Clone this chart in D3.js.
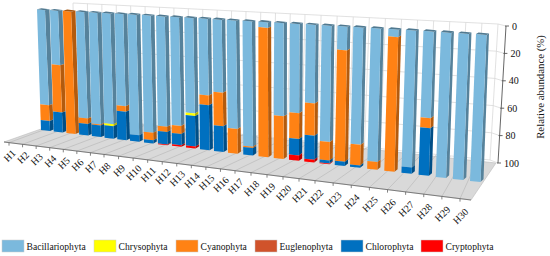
<!DOCTYPE html>
<html>
<head>
<meta charset="utf-8">
<script src="https://cdn.jsdelivr.net/npm/d3@7"></script>
<style>
  body { margin: 0; background: #fff; }
  text { font-family: "Liberation Serif", serif; fill: #111; }
</style>
</head>
<body>
<div id="chart"></div>
<script>
var categories = d3.range(1, 31).map(function(n) { return 'H' + n; });

var bacillariophyta = [78.7, 44.7, 0, 86.2, 89.8, 88.5, 73, 95, 91.6, 85.7, 83.8, 73, 58.3, 55.2, 81.5, 93.5, 4.2, 68.6, 65.2, 57, 84, 17, 83.6, 94.5, 5.2, 95.6, 60, 100, 100, 100];
var chrysophyta = [0, 0, 0, 0, 0, 1.5, 0, 0, 0, 0, 0, 2, 0, 0, 0, 0, 0, 0, 0, 0, 0, 0, 0, 0, 0, 0, 0, 0, 0, 0];
var cyanophyta = [13, 38.9, 100, 4.3, 0.8, 0, 4.5, 0, 6, 4.1, 6.2, 0, 7.4, 25.3, 18.5, 1, 95.8, 31.4, 18.9, 23.5, 13.3, 80, 14.8, 5.5, 94.8, 0, 7, 0, 0, 0];
var euglenophyta = d3.range(30).map(function() { return 0; });
var chlorophyta = [8.3, 16.4, 0, 9.5, 9.4, 10, 22.5, 5, 2.4, 9.8, 8.8, 23.5, 34.3, 19.5, 0, 5.5, 0, 0, 12, 17.5, 2.2, 3, 1.6, 0, 0, 4.4, 33, 0, 0, 0];
var cryptophyta = [0, 0, 0, 0, 0, 0, 0, 0, 0, 0.4, 1.2, 1.5, 0, 0, 0, 0, 0, 0, 3.9, 2, 0.5, 0, 0, 0, 0, 0, 0, 0, 0, 0];

var seriesNames = ['Bacillariophyta', 'Chrysophyta', 'Cyanophyta', 'Euglenophyta', 'Chlorophyta', 'Cryptophyta'];
var seriesValues = [bacillariophyta, chrysophyta, cyanophyta, euglenophyta, chlorophyta, cryptophyta];
var seriesColors = ['#7bb9dd', '#ffff00', '#ff8214', '#d0532b', '#0070c0', '#ff0000'];
var yTicks = [0, 20, 40, 60, 80, 100];
var legendX = [2, 94, 176, 255, 341, 421];

var table = categories.map(function(c, i) {
  var row = { name: c };
  seriesNames.forEach(function(s, k) { row[s] = seriesValues[k][i]; });
  return row;
});
var stacked = d3.stack().keys(seriesNames)(table);

var svg = d3.select('#chart').append('svg')
  .attr('width', 550)
  .attr('height', 256);

// the perspective is faked with one scale per edge of a bar
var knots = [1, 8, 15, 23, 30];
var topX = d3.scaleLinear().domain(knots).range([37, 127.7, 226.7, 353.3, 476]);
var botX = d3.scaleLinear().domain(knots).range([41, 130, 228, 350, 470]);
var topY = d3.scaleLinear().domain(knots).range([9.3, 14, 19.7, 26.7, 34]);
var botY = d3.scaleLinear().domain(knots).range([130, 140.7, 152.7, 166.7, 181]);
var widthTop = d3.scaleLinear().domain([1, 30]).range([8, 10.5]);
var widthBot = d3.scaleLinear().domain([1, 30]).range([9, 10.5]);
var sideTop = d3.scaleLinear().domain([1, 30]).range([4.5, 2.5]);
var sideBot = d3.scaleLinear().domain([1, 30]).range([3.5, 3]);
var riseTop = d3.scaleLinear().domain([1, 30]).range([1, 1.6]);
var riseBot = d3.scaleLinear().domain([1, 30]).range([1.5, 2.8]);
var along = d3.scaleLinear().domain([0, 100]).range([0, 1]);

// front edge of the floor, one tick per category
var tickX = d3.scaleLinear().domain([1, 8, 17, 22, 30]).range([9, 104, 235, 315, 460]);
var frontY = d3.scaleLinear().domain([4, 471]).range([142, 200]);
var labelDrop = d3.scaleLinear().domain([1, 30]).range([15.5, 20]);
var wallFootX = d3.scaleLinear().domain([1, 30]).range([78, 478]);
var wallFootY = d3.scaleLinear().domain([75, 490]).range([117, 160]);
var wallTopY = d3.scaleLinear().domain([73, 498]).range([3, 24]);
var wallLineX = d3.scaleLinear().domain([0, 12, 16, 28]).range([73, 246, 305, 498]);
var axisX = d3.scaleLinear().domain([0, 100]).range([506, 498]);
var axisY = d3.scaleLinear().domain([0, 100]).range([26, 163]);
var wallLeftX = d3.scaleLinear().domain([0, 100]).range([73, 75]);
var wallLeftY = d3.scaleLinear().domain([0, 100]).range([3, 117]);
var wallRightX = d3.scaleLinear().domain([0, 100]).range([498, 490]);
var wallRightY = d3.scaleLinear().domain([0, 100]).range([24, 160]);

var line = d3.line();

function pt(i, v, part) {
  var t = along(v);
  var n = i + 1;
  var x = topX(n) + (botX(n) - topX(n)) * t;
  var y = topY(n) + (botY(n) - topY(n)) * t;
  var w = widthTop(n) + (widthBot(n) - widthTop(n)) * t;
  if (part === 'left') return [x, y];
  if (part === 'right') return [x + w, y + 1];
  var s = sideTop(n) + (sideBot(n) - sideTop(n)) * t;
  var r = riseTop(n) + (riseBot(n) - riseTop(n)) * t;
  return [x + w + s, y + 1 - r];
}

var back = svg.append('g');

// floor
back.append('path')
  .attr('d', line([[4, 142], [471, 200], [496, 163], [75, 117]]) + 'Z')
  .attr('fill', '#d9d9d9')
  .attr('stroke', '#bbb')
  .attr('stroke-width', 0.6);

categories.forEach(function(c, i) {
  var x = tickX(i + 1);
  var fx = wallFootX(i + 1);
  back.append('line')
    .attr('x1', x).attr('y1', frontY(x))
    .attr('x2', fx).attr('y2', wallFootY(fx))
    .attr('stroke', '#b5b5b5')
    .attr('stroke-width', 0.6);
});

// back wall grid
yTicks.forEach(function(v) {
  back.append('path')
    .attr('d', line([[wallLeftX(v), wallLeftY(v)], [wallRightX(v), wallRightY(v)], [axisX(v), axisY(v)]]))
    .attr('fill', 'none')
    .attr('stroke', '#d4d4d4')
    .attr('stroke-width', 0.7);
});
d3.range(0, 29).forEach(function(k) {
  var x = wallLineX(k);
  var f = (x - 73) / 425;
  var bx = 75 + f * 415;
  back.append('line')
    .attr('x1', x).attr('y1', wallTopY(x))
    .attr('x2', bx).attr('y2', wallFootY(bx))
    .attr('stroke', '#d4d4d4')
    .attr('stroke-width', 0.7);
});

// front edge and ticks
back.append('line')
  .attr('x1', 4).attr('y1', 142)
  .attr('x2', 471).attr('y2', 200)
  .attr('stroke', '#666')
  .attr('stroke-width', 0.8);

var labels = svg.append('g').attr('font-size', 10);
categories.forEach(function(c, i) {
  var x = tickX(i + 1);
  var y = frontY(x);
  back.append('line')
    .attr('x1', x).attr('y1', y)
    .attr('x2', x).attr('y2', y + 3)
    .attr('stroke', '#666')
    .attr('stroke-width', 0.8);
  labels.append('text')
    .attr('text-anchor', 'middle')
    .attr('transform', 'translate(' + (x + 3) + ',' + (y + labelDrop(i + 1)) + ') rotate(-45)')
    .text(c);
});

// bars, left to right
categories.forEach(function(c, i) {
  var g = svg.append('g');
  stacked.forEach(function(layer, k) {
    var d = layer[i];
    if (d[1] - d[0] <= 0) return;
    g.append('path')
      .attr('d', line([pt(i, d[0], 'right'), pt(i, d[0], 'back'), pt(i, d[1], 'back'), pt(i, d[1], 'right')]) + 'Z')
      .attr('fill', d3.color(seriesColors[k]).darker(1).formatHex());
    g.append('path')
      .attr('d', line([pt(i, d[0], 'left'), pt(i, d[0], 'right'), pt(i, d[1], 'right'), pt(i, d[1], 'left')]) + 'Z')
      .attr('fill', seriesColors[k]);
  });
  var first = stacked.find(function(layer) { return layer[i][1] > layer[i][0]; });
  var col = seriesColors[stacked.indexOf(first)];
  var n = i + 1;
  var l = pt(i, 0, 'left'), r = pt(i, 0, 'right'), b = pt(i, 0, 'back');
  g.append('path')
    .attr('d', line([l, r, b, [l[0] + sideTop(n), l[1] - riseTop(n)]]) + 'Z')
    .attr('fill', d3.color(col).darker(1.2).formatHex());
});

// value axis
svg.append('line')
  .attr('x1', axisX(0)).attr('y1', axisY(0))
  .attr('x2', axisX(100)).attr('y2', axisY(100))
  .attr('stroke', '#555')
  .attr('stroke-width', 0.9);
yTicks.forEach(function(v) {
  svg.append('line')
    .attr('x1', axisX(v) - 1).attr('y1', axisY(v))
    .attr('x2', axisX(v) + 3).attr('y2', axisY(v))
    .attr('stroke', '#555')
    .attr('stroke-width', 0.9);
  svg.append('text')
    .attr('x', axisX(v) + 6)
    .attr('y', axisY(v) + 3.5)
    .attr('font-size', 10)
    .text(v);
});

svg.append('text')
  .attr('transform', 'translate(544,87) rotate(-90)')
  .attr('text-anchor', 'middle')
  .attr('font-size', 10.8)
  .text('Relative abundance (%)');

// legend
var legend = svg.append('g');
seriesNames.forEach(function(s, k) {
  legend.append('rect')
    .attr('x', legendX[k]).attr('y', 240)
    .attr('width', 22).attr('height', 12)
    .attr('fill', seriesColors[k])
    .attr('stroke', '#ccc')
    .attr('stroke-width', 0.5);
  legend.append('text')
    .attr('x', legendX[k] + 24.5).attr('y', 249.5)
    .attr('font-size', 9.6)
    .text(s);
});
</script>
</body>
</html>
